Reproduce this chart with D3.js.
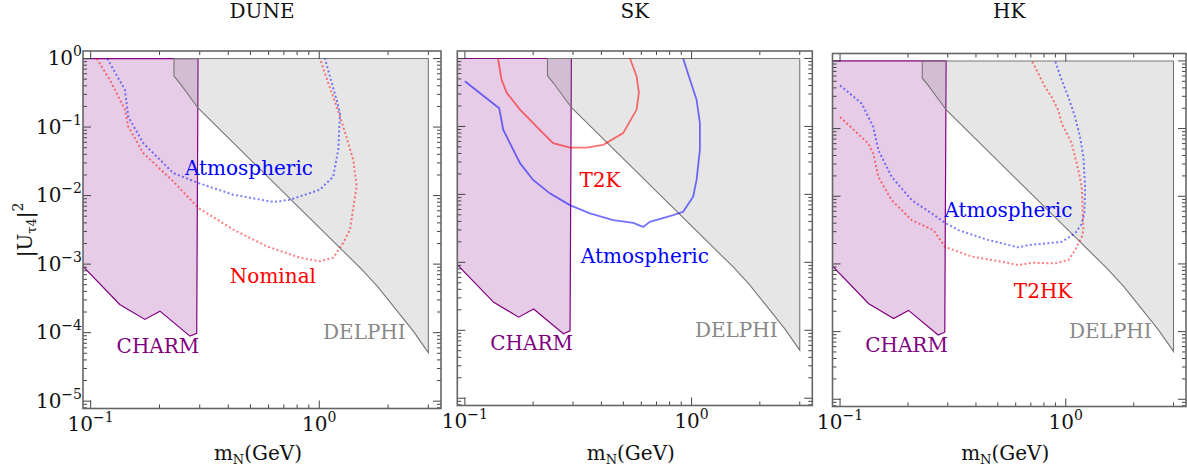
<!DOCTYPE html>
<meta charset="utf-8">
<style>
body { margin: 0; background: #fff; }
svg text { font-family: "DejaVu Serif", serif; }
</style>
<body>
<script src="https://d3js.org/d3.v7.min.js"></script>
<script>

// bounds, [m_N (GeV), |U|^2]
var charm = [[0.09, 1.02e-3], [0.134, 2.58e-4], [0.1727, 1.56e-4], [0.201, 2.06e-4],
  [0.272, 8.9e-5], [0.291, 9.8e-5], [0.295, 1], [0.09, 1]];
var delphi = [[0.2314, 1], [0.2314, 0.556], [0.2458, 0.435], [0.2955, 0.1884], [1.533, 8.4e-4],
  [1.8, 4.7e-4], [2.107, 2.44e-4], [2.578, 1.05e-4], [3.0, 5.1e-5], [3.0, 1]];

var duneAtm = [[0.1182, 1], [0.1413, 0.348], [0.146, 0.142], [0.1698, 0.0583], [0.2298, 0.0213],
  [0.296, 0.01525], [0.4205, 0.0103], [0.629, 0.00807], [0.744, 0.0087], [1.007, 0.0122],
  [1.151, 0.019], [1.211, 0.0466], [1.232, 0.159], [1.191, 0.249], [1.114, 0.543], [1.059, 1]];
var duneNominal = [[0.1062, 1], [0.1215, 0.486], [0.1413, 0.178], [0.146, 0.1017], [0.1698, 0.0417],
  [0.2298, 0.0161], [0.296, 0.0066], [0.4205, 0.00319], [0.589, 0.00182], [0.823, 0.00124],
  [1.007, 0.0011], [1.151, 0.00124], [1.273, 0.00204], [1.362, 0.00319], [1.457, 0.0136],
  [1.408, 0.0333], [1.273, 0.1017], [1.191, 0.199], [1.095, 0.436], [1.007, 1]];

var skT2K = [[0.140, 1], [0.145, 0.491], [0.153, 0.312], [0.175, 0.177], [0.214, 0.0893],
  [0.245, 0.0568], [0.2905, 0.0489], [0.344, 0.0489], [0.4075, 0.0536], [0.499, 0.0798],
  [0.572, 0.177], [0.5855, 0.312], [0.572, 0.549], [0.535, 1]];
var skAtm = [[0.1, 0.463], [0.138, 0.198], [0.1416, 0.187], [0.1476, 0.0893], [0.158, 0.0568],
  [0.175, 0.0288], [0.2, 0.0163], [0.237, 0.01035], [0.2905, 0.00695], [0.356, 0.00524],
  [0.451, 0.00417], [0.553, 0.0038], [0.6115, 0.00332], [0.6546, 0.00394], [0.8294, 0.00494],
  [0.918, 0.00553], [1.016, 0.00922], [1.052, 0.0163], [1.088, 0.0452], [1.088, 0.112],
  [1.052, 0.248], [0.983, 0.491], [0.918, 1]];

var hkAtm = [[0.1, 0.435], [0.1248, 0.234], [0.1404, 0.1056], [0.1478, 0.0479], [0.1694, 0.0193],
  [0.2078, 0.00875], [0.2548, 0.00557], [0.2918, 0.00405], [0.3342, 0.00316], [0.454, 0.00225],
  [0.6166, 0.00176], [0.683, 0.0019], [0.96, 0.00212], [1.0995, 0.00283], [1.17, 0.0038],
  [1.209, 0.00557], [1.218, 0.01377], [1.197, 0.0381], [1.157, 0.0752], [1.0995, 0.148],
  [1.027, 0.292], [0.96, 0.515], [0.897, 1]];
var hkT2HK = [[0.1, 0.148], [0.1335, 0.0601], [0.1404, 0.0428], [0.1478, 0.0193], [0.1694, 0.00875],
  [0.2078, 0.00443], [0.259, 0.00316], [0.2918, 0.00179], [0.3834, 0.00128], [0.5205, 0.00108],
  [0.6166, 0.00096], [0.7068, 0.00104], [0.897, 0.00102], [1.027, 0.00114], [1.0995, 0.0016],
  [1.177, 0.00252], [1.197, 0.00316], [1.177, 0.0138], [1.137, 0.0243], [1.063, 0.0601],
  [0.96, 0.1186], [0.927, 0.186], [0.866, 0.292], [0.809, 0.411], [0.756, 0.647], [0.707, 1]];

var titles = ["DUNE", "SK", "HK"];
var xTickVals = [0.1, 1], xTickExps = ["\u22121", "0"];
var yTickVals = [1, 1e-1, 1e-2, 1e-3, 1e-4, 1e-5], yTickExps = ["0", "\u22121", "\u22122", "\u22123", "\u22124", "\u22125"];

var blue = "#0000ff", red = "#ff0000", purple = "#800080", grey = "#888888";

var panels = [
  {left: 83, right: 441, top: 51, bottom: 408.5, dotted: true,
   curves: [{d: duneNominal, c: red}, {d: duneAtm, c: blue}],
   labels: [{t: "Atmospheric", m: 0.4927, u: 0.0201, c: blue}, {t: "Nominal", m: 0.627, u: 5.22e-4, c: red}]},
  {left: 457.3, right: 812.3, top: 51, bottom: 405.5, dotted: false,
   curves: [{d: skT2K, c: red}, {d: skAtm, c: blue}],
   labels: [{t: "T2K", m: 0.394, u: 0.01295, c: red}, {t: "Atmospheric", m: 0.622, u: 9.86e-4, c: blue}]},
  {left: 832.5, right: 1186, top: 53.5, bottom: 406.5, dotted: true,
   curves: [{d: hkT2HK, c: red}, {d: hkAtm, c: blue}],
   labels: [{t: "Atmospheric", m: 0.557, u: 4.97e-3, c: blue}, {t: "T2HK", m: 0.793, u: 3.11e-4, c: red}]}
];

var svg = d3.select("body").append("svg")
    .attr("width", 1187)
    .attr("height", 469);

var xDom = [Math.pow(10, -1.0335), Math.pow(10, 0.5325)],
    yDom = [Math.pow(10, -5.107), Math.pow(10, 0.11)];

panels.forEach(function(p, i) {
  var x = d3.scaleLog().domain(xDom).range([p.left, p.right]),
      y = d3.scaleLog().domain(yDom).range([p.bottom, p.top]);
  var g = svg.append("g");

  g.append("clipPath").attr("id", "clip" + i)
    .append("rect")
      .attr("x", p.left).attr("y", p.top)
      .attr("width", p.right - p.left).attr("height", p.bottom - p.top);

  var plot = g.append("g").attr("clip-path", "url(#clip" + i + ")");
  var line = d3.line().x(function(d) { return x(d[0]); }).y(function(d) { return y(d[1]); });

  plot.append("path").datum(charm)
    .attr("d", line.curve(d3.curveLinearClosed))
    .attr("fill", purple).attr("fill-opacity", 0.2)
    .attr("stroke", purple).attr("stroke-width", 1.2);
  plot.append("path").datum(delphi)
    .attr("d", line.curve(d3.curveLinearClosed))
    .attr("fill", "#808080").attr("fill-opacity", 0.2)
    .attr("stroke", "#777").attr("stroke-width", 1.1);

  line.curve(d3.curveLinear);
  p.curves.forEach(function(c) {
    plot.append("path").datum(c.d)
      .attr("d", line)
      .attr("fill", "none")
      .attr("stroke", c.c)
      .attr("stroke-opacity", p.dotted ? 0.5 : 0.55)
      .attr("stroke-width", p.dotted ? 2 : 1.8)
      .attr("stroke-dasharray", p.dotted ? "2,2.4" : null);
  });

  var labs = p.labels.concat([
    {t: "CHARM", m: 0.197, u: 5.05e-5, c: purple},
    {t: "DELPHI", m: 1.575, u: 8e-5, c: grey}
  ]);
  g.selectAll("text.lab").data(labs).enter().append("text")
    .attr("class", "lab")
    .attr("x", function(d) { return x(d.m); })
    .attr("y", function(d) { return y(d.u); })
    .attr("text-anchor", "middle")
    .attr("font-size", 20)
    .attr("fill", function(d) { return d.c; })
    .text(function(d) { return d.t; });

  // ticks
  var xMinor = [], yMinor = [];
  [0.1, 1].forEach(function(b) { for (var k = 2; k <= 9; k++) if (b * k < xDom[1]) xMinor.push(b * k); });
  [1e-6, 1e-5, 1e-4, 1e-3, 1e-2, 1e-1, 1].forEach(function(b) {
    for (var k = 2; k <= 9; k++) if (b * k > yDom[0] && b * k < yDom[1]) yMinor.push(b * k);
  });
  var tk = g.append("g").attr("stroke", "#444").attr("stroke-width", 1);
  function xt(vals, len) {
    vals.forEach(function(v) {
      tk.append("line").attr("x1", x(v)).attr("x2", x(v)).attr("y1", p.bottom).attr("y2", p.bottom - len);
      tk.append("line").attr("x1", x(v)).attr("x2", x(v)).attr("y1", p.top).attr("y2", p.top + len);
    });
  }
  function yt(vals, len) {
    vals.forEach(function(v) {
      tk.append("line").attr("y1", y(v)).attr("y2", y(v)).attr("x1", p.left).attr("x2", p.left + len);
      tk.append("line").attr("y1", y(v)).attr("y2", y(v)).attr("x1", p.right).attr("x2", p.right - len);
    });
  }
  xt(xTickVals, 8); xt(xMinor, 4);
  yt(yTickVals, 8); yt(yMinor, 4);

  g.append("rect")
    .attr("x", p.left).attr("y", p.top)
    .attr("width", p.right - p.left).attr("height", p.bottom - p.top)
    .attr("fill", "none").attr("stroke", "#666").attr("stroke-width", 1.6);

  // x tick labels
  xTickVals.forEach(function(v, j) {
    var t = g.append("text")
      .attr("x", x(v)).attr("y", p.bottom + 22)
      .attr("text-anchor", "middle").attr("font-size", 20).attr("fill", "#111");
    t.append("tspan").text("10");
    t.append("tspan").attr("dy", -9).attr("font-size", 14).text(xTickExps[j]);
  });

  if (i == 0) {
    yTickVals.forEach(function(v, j) {
      var t = g.append("text")
        .attr("x", p.left - 1).attr("y", y(v) + 6.5)
        .attr("text-anchor", "end").attr("font-size", 20).attr("fill", "#111");
      t.append("tspan").text("10");
      t.append("tspan").attr("dy", -9).attr("font-size", 14).text(yTickExps[j]);
    });
    var yl = g.append("text")
      .attr("transform", "translate(32," + 230 + ")rotate(-90)")
      .attr("text-anchor", "middle").attr("font-size", 20).attr("fill", "#111");
    yl.append("tspan").text("|U");
    yl.append("tspan").attr("dy", 4).attr("font-size", 13).text("\u03c44");
    yl.append("tspan").attr("dy", -4).text("|");
    yl.append("tspan").attr("dy", -9).attr("font-size", 14).text("2");
  }

  var xl = g.append("text")
    .attr("x", (p.left + p.right) / 2 - 4).attr("y", 460)
    .attr("text-anchor", "middle").attr("font-size", 20).attr("fill", "#111");
  xl.append("tspan").text("m");
  xl.append("tspan").attr("dy", 4).attr("font-size", 13).text("N");
  xl.append("tspan").attr("dy", -4).text("(GeV)");

  g.append("text")
    .attr("x", (p.left + p.right) / 2).attr("y", 18)
    .attr("text-anchor", "middle").attr("font-size", 20).attr("fill", "#111")
    .text(titles[i]);
});

</script>
